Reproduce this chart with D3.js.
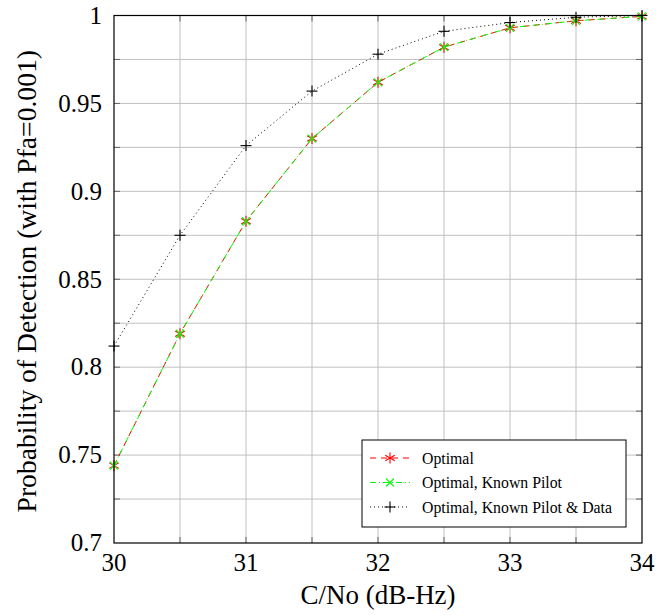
<!DOCTYPE html>
<html>
<head>
<meta charset="utf-8">
<script src="https://cdn.jsdelivr.net/npm/d3@7"></script>
<style>
  body { margin: 0; background: #fff; }
  text { font-family: "Liberation Serif", "DejaVu Serif", serif; fill: #000; }
</style>
</head>
<body>
<svg id="chart" width="656" height="615"></svg>
<script>
// C/No values (dB-Hz)
const cno = [30, 30.5, 31, 31.5, 32, 32.5, 33, 33.5, 34];
// probability of detection per detector
const optimal = [0.744, 0.819, 0.883, 0.930, 0.962, 0.982, 0.993, 0.997, 0.9995];
const knownPilot = [0.744, 0.819, 0.883, 0.930, 0.962, 0.982, 0.993, 0.997, 0.9995];
const knownPilotData = [0.812, 0.875, 0.926, 0.957, 0.978, 0.991, 0.996, 0.999, 1.0];

const xTicks = [30, 31, 32, 33, 34];
const xGrid = [30.5, 31, 31.5, 32, 32.5, 33, 33.5];
const yTicks = [0.7, 0.75, 0.8, 0.85, 0.9, 0.95, 1];
const yGrid = [0.725, 0.75, 0.775, 0.8, 0.825, 0.85, 0.875, 0.9, 0.925, 0.95, 0.975];

const series = [
  { name: 'Optimal', values: optimal, color: '#ff0000', dash: '6,5', marker: 'asterisk' },
  { name: 'Optimal, Known Pilot', values: knownPilot, color: '#00ff00', dash: '6,3,1,3', marker: 'cross' },
  { name: 'Optimal, Known Pilot & Data', values: knownPilotData, color: '#000000', dash: '1,3', marker: 'plus' }
];

const svg = d3.select('#chart');
const margin = { left: 114, right: 14, top: 15.5, bottom: 72 };
const W = 656, H = 615;
const x = d3.scaleLinear().domain([30, 34]).range([margin.left, W - margin.right]);
const y = d3.scaleLinear().domain([0.7, 1]).range([H - margin.bottom, margin.top]);

// grid
const grid = svg.append('g');
grid.selectAll('.gx').data(xGrid).join('line')
  .attr('x1', d => x(d)).attr('x2', d => x(d))
  .attr('y1', y(0.7)).attr('y2', y(1))
  .attr('stroke', '#c0c0c0').attr('stroke-width', 1);
grid.selectAll('.gy').data(yGrid).join('line')
  .attr('x1', x(30)).attr('x2', x(34))
  .attr('y1', d => y(d)).attr('y2', d => y(d))
  .attr('stroke', '#c0c0c0').attr('stroke-width', 1);

// inward ticks on all sides
const tk = 6;
const ticks = svg.append('g').attr('stroke', '#666').attr('stroke-width', 1);
xGrid.forEach(d => {
  ticks.append('line').attr('x1', x(d)).attr('x2', x(d)).attr('y1', y(0.7)).attr('y2', y(0.7) - tk);
  ticks.append('line').attr('x1', x(d)).attr('x2', x(d)).attr('y1', y(1)).attr('y2', y(1) + tk);
});
yGrid.forEach(d => {
  ticks.append('line').attr('x1', x(30)).attr('x2', x(30) + tk).attr('y1', y(d)).attr('y2', y(d));
  ticks.append('line').attr('x1', x(34)).attr('x2', x(34) - tk).attr('y1', y(d)).attr('y2', y(d));
});

// tick labels
svg.append('g').selectAll('text').data(xTicks).join('text')
  .attr('x', d => x(d)).attr('y', y(0.7) + 28)
  .attr('text-anchor', 'middle').attr('font-size', 25)
  .text(d => d);
svg.append('g').selectAll('text').data(yTicks).join('text')
  .attr('x', x(30) - 12).attr('y', d => y(d)).attr('dy', '0.33em')
  .attr('text-anchor', 'end').attr('font-size', 25)
  .text(d => d3.format('')(d));

// series
const line = d3.line().x((d, i) => x(cno[i])).y(d => y(d));

function drawMarker(g, type, cx, cy, color) {
  const m = g.append('g').attr('transform', `translate(${cx},${cy})`)
    .attr('stroke', color).attr('stroke-width', 1.1).attr('fill', 'none');
  if (type === 'asterisk') {
    const r = 5.5;
    [90, 30, 150].forEach(a => {
      const rad = a * Math.PI / 180;
      m.append('line').attr('x1', -r * Math.cos(rad)).attr('y1', -r * Math.sin(rad))
        .attr('x2', r * Math.cos(rad)).attr('y2', r * Math.sin(rad));
    });
  } else if (type === 'cross') {
    const r = 4;
    m.append('line').attr('x1', -r).attr('y1', -r).attr('x2', r).attr('y2', r);
    m.append('line').attr('x1', -r).attr('y1', r).attr('x2', r).attr('y2', -r);
  } else {
    const r = 5.5;
    m.append('line').attr('x1', -r).attr('y1', 0).attr('x2', r).attr('y2', 0);
    m.append('line').attr('x1', 0).attr('y1', -r).attr('x2', 0).attr('y2', r);
  }
}

series.forEach(s => {
  const g = svg.append('g');
  g.append('path').attr('d', line(s.values))
    .attr('fill', 'none').attr('stroke', s.color).attr('stroke-width', 1)
    .attr('stroke-dasharray', s.dash);
  s.values.forEach((v, i) => drawMarker(g, s.marker, x(cno[i]), y(v), s.color));
});

// frame
svg.append('rect')
  .attr('x', x(30)).attr('y', y(1))
  .attr('width', x(34) - x(30)).attr('height', y(0.7) - y(1))
  .attr('fill', 'none').attr('stroke', '#000').attr('stroke-width', 1.2);

// legend
const lg = svg.append('g').attr('transform', 'translate(362,440)');
lg.append('rect').attr('width', 264).attr('height', 87)
  .attr('fill', '#fff').attr('stroke', '#000').attr('stroke-width', 1);
series.forEach((s, i) => {
  const ly = 18 + i * 24.5;
  lg.append('line').attr('x1', 8).attr('x2', 48).attr('y1', ly).attr('y2', ly)
    .attr('stroke', s.color).attr('stroke-width', 1).attr('stroke-dasharray', s.dash);
  drawMarker(lg, s.marker, 28, ly, s.color);
  lg.append('text').attr('x', 60).attr('y', ly).attr('dy', '0.35em')
    .attr('font-size', 15.8).text(s.name);
});

// axis titles
svg.append('text').attr('x', (x(30) + x(34)) / 2).attr('y', 604)
  .attr('text-anchor', 'middle').attr('font-size', 27).text('C/No (dB-Hz)');
svg.append('text')
  .attr('transform', `translate(36,${(y(0.7) + y(1)) / 2 + 2}) rotate(-90)`)
  .attr('text-anchor', 'middle').attr('font-size', 27.6)
  .text('Probability of Detection (with Pfa=0.001)');
</script>
</body>
</html>
